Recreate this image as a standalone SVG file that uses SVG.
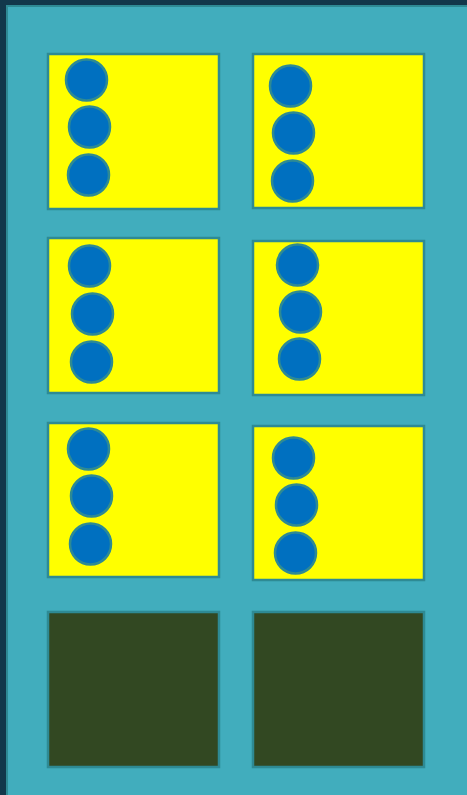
<svg xmlns="http://www.w3.org/2000/svg" width="467" height="795" viewBox="0 0 467 795">
<style>
.box{fill:#ffff00;stroke:#2e8a94;stroke-width:2.5}
.dark{fill:#324822;stroke:#2e8a94;stroke-width:2.5}
.dot{fill:#0070c0;stroke:#2e8a94;stroke-width:2.5}
</style>
<rect x="0" y="0" width="467" height="795" fill="#12384b"/>
<rect x="7" y="6" width="470" height="800" fill="#41adbd" stroke="#2e8a94" stroke-width="2"/>
<g id="box1"><rect class="box" x="48" y="54" width="171" height="155"/><circle class="dot" cx="86.5" cy="80" r="20.5"/><circle class="dot" cx="89.5" cy="127" r="20.5"/><circle class="dot" cx="88.5" cy="175" r="20.5"/></g>
<g id="box2"><rect class="box" x="253" y="54" width="171" height="154"/><circle class="dot" cx="290.5" cy="86" r="20.5"/><circle class="dot" cx="293.5" cy="133" r="20.5"/><circle class="dot" cx="292.5" cy="181" r="20.5"/></g>
<g id="box3"><rect class="box" x="48" y="238" width="171" height="155"/><circle class="dot" cx="89.5" cy="266" r="20.5"/><circle class="dot" cx="92.5" cy="314" r="20.5"/><circle class="dot" cx="91.5" cy="362" r="20.5"/></g>
<g id="box4"><rect class="box" x="253" y="241" width="171" height="154"/><circle class="dot" cx="297.5" cy="265" r="20.5"/><circle class="dot" cx="300.5" cy="312" r="20.5"/><circle class="dot" cx="299.5" cy="359" r="20.5"/></g>
<g id="box5"><rect class="box" x="48" y="423" width="171" height="154"/><circle class="dot" cx="88.5" cy="449" r="20.5"/><circle class="dot" cx="91.5" cy="496" r="20.5"/><circle class="dot" cx="90.5" cy="544" r="20.5"/></g>
<g id="box6"><rect class="box" x="253" y="426" width="171" height="154"/><circle class="dot" cx="293.5" cy="458" r="20.5"/><circle class="dot" cx="296.5" cy="505" r="20.5"/><circle class="dot" cx="295.5" cy="553" r="20.5"/></g>
<g id="box7"><rect class="dark" x="48" y="612" width="171" height="155"/></g>
<g id="box8"><rect class="dark" x="253" y="612" width="171" height="155"/></g>
<g id="connectors"></g>
</svg>
